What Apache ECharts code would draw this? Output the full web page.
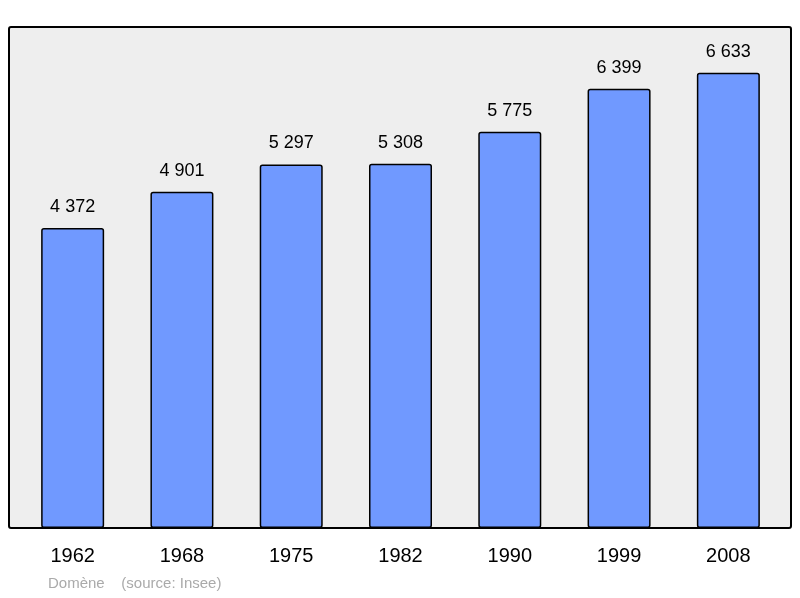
<!DOCTYPE html>
<html>
<head>
<meta charset="utf-8">
<script src="https://cdn.jsdelivr.net/npm/echarts@6/dist/echarts.min.js"></script>
<style>html,body{margin:0;padding:0;background:#fff}#main{width:800px;height:598px}</style>
</head>
<body>
<div id="main"></div>
<script>
var years = ['1962', '1968', '1975', '1982', '1990', '1999', '2008'];
var population = [4372, 4901, 5297, 5308, 5775, 6399, 6633];

function fmt(v) {
    return String(v).replace(/\B(?=(\d{3})+(?!\d))/g, ' ');
}

var myChart = echarts.init(document.getElementById('main'));
var option = {
    animation: false,
    textStyle: { fontFamily: 'Liberation Sans, Arial, sans-serif' },
    graphic: [
        {
            type: 'rect', z: -1,
            shape: { x: 9, y: 27, width: 782, height: 501, r: 2 },
            style: { fill: '#eeeeee', stroke: '#000', lineWidth: 2 }
        },
        {
            type: 'text', left: 48, top: 576,
            style: { text: 'Domène    (source: Insee)', fill: '#aaaaaa', font: '15px Liberation Sans, Arial, sans-serif' }
        }
    ],
    grid: { left: 18, right: 17, top: 27, bottom: 70 },
    xAxis: {
        type: 'category',
        data: years,
        axisLine: { show: false },
        axisTick: { show: false },
        axisLabel: { color: '#000', fontSize: 20, margin: 18 }
    },
    yAxis: {
        type: 'value', min: 0, max: 7300,
        show: false
    },
    series: [{
        type: 'bar',
        data: population,
        barWidth: 63,
        itemStyle: { color: '#7099ff', borderColor: '#000', borderWidth: 1.5, borderRadius: 2 },
        label: {
            show: true, position: 'top', distance: 12,
            color: '#000', fontSize: 18,
            formatter: function (p) { return fmt(p.value); }
        }
    }]
};
myChart.setOption(option);
</script>
</body>
</html>
